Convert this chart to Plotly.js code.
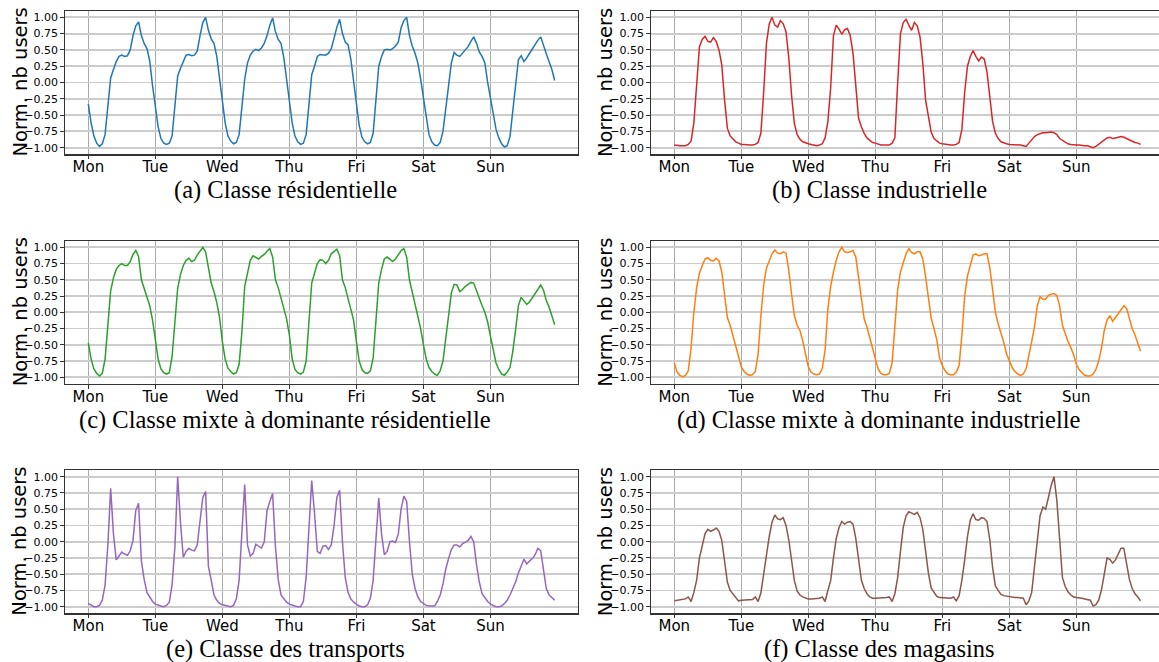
<!DOCTYPE html>
<html>
<head>
<meta charset="utf-8">
<script src="https://cdn.plot.ly/plotly-3.0.1.min.js"></script>
<style>html,body{margin:0;padding:0;background:#fff;}#chart{width:1159px;height:662px;}</style>
</head>
<body>
<div id="chart"></div>
<script>
// ---- Data (hourly, Monday 00h .. Sunday 23h) ----
const dayLabels = ['Mon', 'Tue', 'Wed', 'Thu', 'Fri', 'Sat', 'Sun'];
const dayTickHours = [0, 24, 48, 72, 96, 120, 144];
const yTickValues = [-1, -0.75, -0.5, -0.25, 0, 0.25, 0.5, 0.75, 1];

const residential = [
  -0.33,-0.62,-0.82,-0.93,-0.98,-0.94,-0.80,-0.35,0.07,0.20,0.32,0.40,0.42,0.40,0.41,0.50,0.72,0.87,0.93,0.72,0.60,0.52,0.33,-0.05,
  -0.35,-0.68,-0.86,-0.93,-0.95,-0.93,-0.82,-0.38,0.10,0.22,0.33,0.42,0.43,0.41,0.42,0.48,0.72,0.92,1.00,0.80,0.67,0.60,0.40,0.05,
  -0.25,-0.62,-0.82,-0.90,-0.94,-0.92,-0.80,-0.35,0.05,0.30,0.42,0.48,0.51,0.49,0.53,0.60,0.72,0.88,0.99,0.78,0.66,0.60,0.38,0.05,
  -0.25,-0.62,-0.82,-0.91,-0.95,-0.93,-0.80,-0.35,0.12,0.25,0.40,0.43,0.42,0.42,0.45,0.52,0.68,0.85,0.97,0.75,0.62,0.58,0.36,0.00,
  -0.30,-0.66,-0.84,-0.91,-0.94,-0.92,-0.78,-0.25,0.25,0.40,0.50,0.51,0.50,0.52,0.56,0.62,0.84,0.95,1.00,0.72,0.56,0.45,0.30,0.05,
  -0.25,-0.58,-0.80,-0.91,-0.96,-0.97,-0.92,-0.75,-0.40,-0.05,0.30,0.46,0.42,0.40,0.45,0.50,0.55,0.63,0.70,0.60,0.47,0.40,0.30,0.00,
  -0.25,-0.52,-0.72,-0.85,-0.94,-0.99,-0.97,-0.83,-0.45,0.00,0.35,0.41,0.32,0.38,0.45,0.50,0.58,0.65,0.70,0.55,0.44,0.32,0.20,0.03
];

const industrial = [
  -0.96,-0.97,-0.97,-0.97,-0.97,-0.95,-0.90,-0.62,0.05,0.55,0.66,0.71,0.63,0.62,0.69,0.63,0.50,0.27,-0.27,-0.70,-0.82,-0.87,-0.91,-0.93,
  -0.95,-0.95,-0.96,-0.96,-0.96,-0.95,-0.92,-0.78,-0.15,0.60,0.90,1.00,0.88,0.85,0.95,0.90,0.78,0.38,-0.20,-0.63,-0.80,-0.87,-0.91,-0.93,
  -0.94,-0.95,-0.96,-0.97,-0.96,-0.94,-0.85,-0.60,-0.08,0.72,0.88,0.82,0.74,0.81,0.83,0.72,0.45,-0.05,-0.55,-0.68,-0.78,-0.85,-0.89,-0.92,
  -0.93,-0.95,-0.96,-0.96,-0.96,-0.96,-0.93,-0.85,0.00,0.75,0.92,0.97,0.88,0.80,0.92,0.87,0.70,0.30,-0.27,-0.55,-0.76,-0.86,-0.90,-0.93,
  -0.94,-0.95,-0.96,-0.96,-0.96,-0.95,-0.92,-0.72,-0.15,0.25,0.40,0.49,0.40,0.33,0.39,0.36,0.16,-0.25,-0.60,-0.78,-0.86,-0.91,-0.93,-0.94,
  -0.95,-0.95,-0.96,-0.96,-0.96,-0.97,-0.98,-0.93,-0.88,-0.83,-0.80,-0.78,-0.77,-0.77,-0.76,-0.76,-0.77,-0.80,-0.86,-0.89,-0.92,-0.94,-0.95,-0.96,
  -0.96,-0.96,-0.97,-0.97,-0.97,-0.98,-1.00,-0.98,-0.95,-0.91,-0.88,-0.85,-0.84,-0.86,-0.85,-0.84,-0.83,-0.84,-0.86,-0.89,-0.91,-0.92,-0.93,-0.95
];

const mixedResidential = [
  -0.47,-0.72,-0.87,-0.94,-0.98,-0.94,-0.72,-0.22,0.33,0.53,0.66,0.72,0.75,0.72,0.72,0.78,0.89,0.95,0.86,0.50,0.37,0.25,0.10,-0.12,
  -0.42,-0.72,-0.87,-0.93,-0.95,-0.93,-0.68,-0.18,0.37,0.58,0.72,0.80,0.83,0.78,0.80,0.88,0.95,1.00,0.93,0.68,0.45,0.32,0.15,-0.08,
  -0.45,-0.72,-0.86,-0.91,-0.95,-0.93,-0.80,-0.30,0.40,0.60,0.80,0.87,0.85,0.82,0.86,0.89,0.94,0.98,0.85,0.50,0.38,0.22,0.05,-0.10,
  -0.35,-0.72,-0.88,-0.93,-0.95,-0.92,-0.75,-0.10,0.45,0.60,0.75,0.81,0.80,0.75,0.80,0.90,0.94,0.97,0.87,0.50,0.38,0.20,0.05,-0.12,
  -0.45,-0.75,-0.88,-0.93,-0.94,-0.90,-0.70,-0.08,0.45,0.66,0.82,0.85,0.82,0.78,0.82,0.89,0.95,0.98,0.85,0.50,0.32,0.15,-0.05,-0.25,
  -0.50,-0.72,-0.85,-0.91,-0.95,-0.97,-0.90,-0.75,-0.40,-0.05,0.30,0.43,0.42,0.32,0.35,0.40,0.43,0.46,0.45,0.33,0.19,0.10,0.00,-0.15,
  -0.37,-0.60,-0.78,-0.88,-0.95,-0.97,-0.92,-0.85,-0.60,-0.27,0.10,0.23,0.18,0.12,0.16,0.22,0.29,0.35,0.42,0.34,0.18,0.08,-0.05,-0.19
];

const mixedIndustrial = [
  -0.78,-0.92,-0.97,-0.99,-0.97,-0.90,-0.55,0.00,0.38,0.60,0.72,0.82,0.84,0.80,0.79,0.83,0.79,0.62,0.27,-0.08,-0.20,-0.36,-0.48,-0.68,
  -0.84,-0.91,-0.95,-0.97,-0.96,-0.91,-0.65,-0.06,0.42,0.68,0.80,0.90,0.96,0.91,0.90,0.93,0.91,0.65,0.28,-0.05,-0.20,-0.28,-0.44,-0.62,
  -0.84,-0.92,-0.95,-0.96,-0.95,-0.86,-0.58,0.05,0.40,0.62,0.80,0.93,1.00,0.93,0.92,0.93,0.95,0.85,0.55,0.25,-0.10,-0.23,-0.40,-0.57,
  -0.72,-0.87,-0.94,-0.96,-0.96,-0.94,-0.78,-0.15,0.35,0.62,0.78,0.90,0.98,0.92,0.90,0.93,0.93,0.82,0.55,0.20,-0.09,-0.25,-0.42,-0.70,
  -0.82,-0.90,-0.95,-0.96,-0.96,-0.92,-0.82,-0.35,0.25,0.56,0.74,0.88,0.90,0.87,0.88,0.90,0.90,0.68,0.35,0.00,-0.18,-0.31,-0.46,-0.64,
  -0.75,-0.85,-0.91,-0.95,-0.97,-0.95,-0.87,-0.68,-0.45,-0.22,0.10,0.24,0.20,0.20,0.26,0.28,0.29,0.26,0.10,-0.20,-0.33,-0.45,-0.54,-0.65,
  -0.80,-0.88,-0.93,-0.97,-0.98,-0.98,-0.95,-0.88,-0.75,-0.55,-0.28,-0.12,-0.05,-0.14,-0.08,-0.02,0.04,0.10,0.06,-0.10,-0.25,-0.35,-0.47,-0.60
];

const transports = [
  -0.95,-0.98,-1.00,-1.00,-0.98,-0.90,-0.67,-0.05,0.82,0.12,-0.28,-0.22,-0.16,-0.19,-0.21,-0.14,0.02,0.48,0.59,-0.30,-0.58,-0.78,-0.86,-0.92,
  -0.96,-0.98,-0.99,-1.00,-0.98,-0.93,-0.66,-0.08,1.00,0.30,-0.24,-0.15,-0.10,-0.13,-0.14,-0.05,0.30,0.68,0.77,-0.38,-0.59,-0.82,-0.90,-0.95,
  -0.97,-0.98,-0.99,-1.00,-0.98,-0.88,-0.59,0.15,0.88,-0.05,-0.22,-0.18,-0.04,-0.07,-0.10,0.00,0.48,0.62,0.74,-0.07,-0.58,-0.82,-0.88,-0.93,
  -0.96,-0.98,-0.99,-1.00,-1.00,-0.92,-0.55,0.20,0.94,0.44,-0.15,-0.18,-0.07,-0.06,-0.12,-0.05,0.25,0.68,0.79,0.00,-0.55,-0.78,-0.88,-0.93,
  -0.96,-0.99,-1.00,-1.00,-0.97,-0.87,-0.59,0.10,0.67,0.12,-0.20,-0.15,0.00,0.01,-0.01,0.12,0.50,0.70,0.62,0.00,-0.50,-0.72,-0.85,-0.92,
  -0.95,-0.98,-0.99,-0.99,-0.99,-0.92,-0.82,-0.65,-0.42,-0.26,-0.12,-0.05,-0.05,-0.08,-0.03,-0.01,0.02,0.08,0.00,-0.35,-0.62,-0.80,-0.87,-0.92,
  -0.96,-0.98,-1.00,-1.00,-0.99,-0.95,-0.90,-0.82,-0.73,-0.62,-0.48,-0.38,-0.27,-0.34,-0.30,-0.26,-0.20,-0.10,-0.14,-0.45,-0.72,-0.82,-0.86,-0.90
];

const shops = [
  -0.91,-0.90,-0.90,-0.89,-0.88,-0.85,-0.92,-0.78,-0.59,-0.25,-0.05,0.12,0.19,0.16,0.18,0.21,0.16,0.02,-0.30,-0.62,-0.75,-0.80,-0.86,-0.91,
  -0.90,-0.90,-0.89,-0.89,-0.89,-0.85,-0.92,-0.79,-0.50,-0.18,0.08,0.30,0.41,0.35,0.34,0.37,0.25,0.03,-0.32,-0.60,-0.76,-0.82,-0.85,-0.87,
  -0.88,-0.88,-0.88,-0.88,-0.87,-0.85,-0.92,-0.75,-0.60,-0.25,0.05,0.22,0.31,0.27,0.30,0.31,0.27,0.05,-0.31,-0.59,-0.72,-0.80,-0.85,-0.87,
  -0.87,-0.87,-0.87,-0.87,-0.86,-0.85,-0.92,-0.80,-0.55,-0.15,0.22,0.40,0.46,0.44,0.42,0.45,0.37,0.19,-0.15,-0.48,-0.71,-0.77,-0.84,-0.86,
  -0.86,-0.87,-0.87,-0.87,-0.85,-0.91,-0.83,-0.59,-0.28,0.08,0.33,0.43,0.34,0.33,0.37,0.36,0.31,0.03,-0.40,-0.68,-0.75,-0.81,-0.83,-0.84,
  -0.85,-0.85,-0.86,-0.86,-0.87,-0.87,-0.97,-0.91,-0.78,-0.36,0.05,0.40,0.53,0.50,0.68,0.87,1.00,0.64,0.05,-0.55,-0.69,-0.77,-0.82,-0.85,
  -0.86,-0.86,-0.87,-0.88,-0.89,-0.90,-0.99,-0.97,-0.90,-0.74,-0.50,-0.25,-0.27,-0.33,-0.28,-0.18,-0.10,-0.10,-0.32,-0.58,-0.72,-0.80,-0.85,-0.91
];

const panelSeries = [residential, industrial, mixedResidential, mixedIndustrial, transports, shops];
const panelColors = ['#1f77b4', '#d62728', '#2ca02c', '#ff7f0e', '#9467bd', '#8c564b'];
const panelCaptions = [
  '(a) Classe résidentielle',
  '(b) Classe industrielle',
  '(c) Classe mixte à dominante résidentielle',
  '(d) Classe mixte à dominante industrielle',
  '(e) Classe des transports',
  '(f) Classe des magasins'
];
const yTitle = 'Norm. nb users';

// ---- Layout geometry (pixels of the 1159x662 figure) ----
const W = 1159, H = 662;
const colFrames = [[65, 578], [651, 1159]];
const colRanges = [[-8.35, 175.35], [-8.35, 173.6]];
const rowFrames = [[10.8, 154.2], [240.8, 383.8], [470.2, 613.2]];
const captionX = [285, 879];
const captionY = [190, 420, 649];
const yTitleX = [20, 605.5];

const traces = [];
const layout = {
  width: W, height: H,
  margin: {l: 0, r: 0, t: 0, b: 0, pad: 0},
  paper_bgcolor: '#ffffff',
  plot_bgcolor: '#ffffff',
  showlegend: false,
  annotations: []
};

panelSeries.forEach((series, i) => {
  const col = i % 2, row = Math.floor(i / 2);
  const n = i + 1;
  const xName = n === 1 ? 'xaxis' : 'xaxis' + n;
  const yName = n === 1 ? 'yaxis' : 'yaxis' + n;
  const xRef = n === 1 ? 'x' : 'x' + n;
  const yRef = n === 1 ? 'y' : 'y' + n;
  const hours = series.map((_, h) => h);
  traces.push({
    type: 'scatter', mode: 'lines',
    x: hours, y: series,
    xaxis: xRef, yaxis: yRef,
    line: {color: panelColors[i], width: 1.5},
    hoverinfo: 'skip'
  });
  const cf = colFrames[col], rf = rowFrames[row];
  layout[xName] = {
    domain: [cf[0] / W, Math.min(1, cf[1] / W)],
    range: colRanges[col],
    anchor: yRef,
    tickmode: 'array', tickvals: dayTickHours, ticktext: dayLabels,
    showgrid: true, gridcolor: '#a9a9a9', gridwidth: 1,
    zeroline: false,
    showline: true, mirror: true, linecolor: '#333333', linewidth: 1.3,
    ticks: 'outside', ticklen: 3.5, tickwidth: 1, tickcolor: '#333333',
    ticklabelstandoff: -5,
    tickfont: {family: 'DejaVu Sans', size: 15, color: '#000000'},
    fixedrange: true
  };
  layout[yName] = {
    domain: [1 - rf[1] / H, 1 - rf[0] / H],
    range: [-1.1, 1.1],
    anchor: xRef,
    tickmode: 'array', tickvals: yTickValues,
    tickformat: '.2f',
    showgrid: true, gridcolor: '#cccccc', gridwidth: 1.8,
    zeroline: false,
    showline: true, mirror: col === 0, linecolor: '#333333', linewidth: 1.3,
    ticks: 'outside', ticklen: 3.5, tickwidth: 1, tickcolor: '#333333',
    tickfont: {family: 'DejaVu Sans', size: 11, color: '#000000'},
    fixedrange: true
  };
  layout.annotations.push({
    xref: 'paper', yref: 'paper',
    x: yTitleX[col] / W, y: 1 - (rf[0] + rf[1]) / 2 / H,
    xanchor: 'center', yanchor: 'middle',
    text: yTitle, textangle: -90, showarrow: false,
    font: {family: 'DejaVu Sans', size: 19.5, color: '#000000'}
  });
  layout.annotations.push({
    xref: 'paper', yref: 'paper',
    x: captionX[col] / W, y: 1 - captionY[row] / H,
    xanchor: 'center', yanchor: 'middle',
    text: panelCaptions[i], showarrow: false,
    font: {family: 'Liberation Serif', size: 24.5, color: '#000000'}
  });
});

Plotly.newPlot('chart', traces, layout, {staticPlot: true, displayModeBar: false});
</script>
</body>
</html>
